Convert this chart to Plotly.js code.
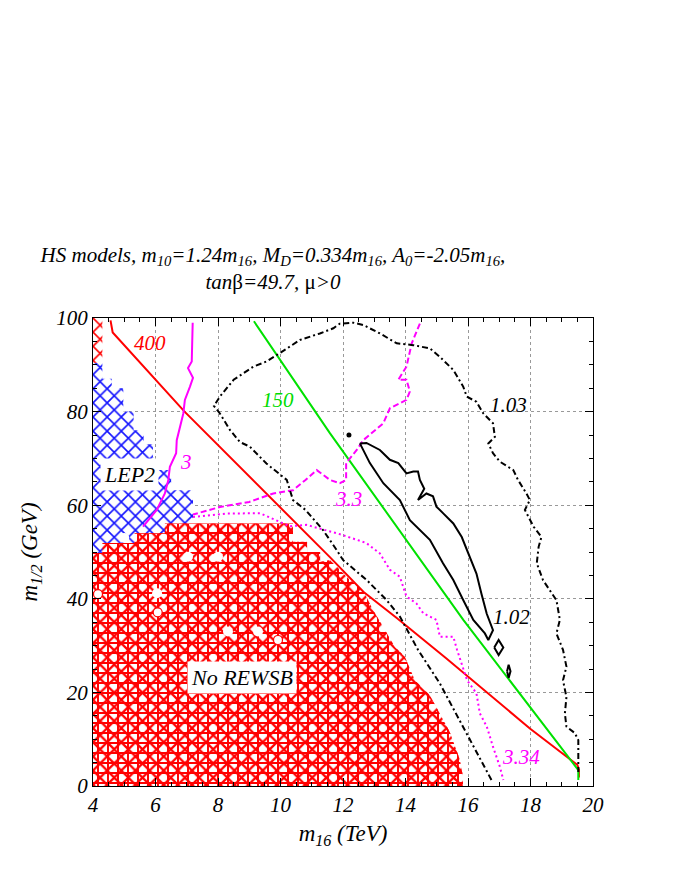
<!DOCTYPE html>
<html>
<head>
<meta charset="utf-8">
<script src="https://cdn.plot.ly/plotly-3.0.1.min.js"></script>
<style>html,body{margin:0;padding:0;background:#fff;}</style>
</head>
<body>
<div id="chart" style="width:674px;height:872px;"></div>
<script>
// ---- data (m16 in TeV, m1/2 in GeV) ----
const xTicks = [4, 6, 8, 10, 12, 14, 16, 18, 20];
const yTicks = [0, 20, 40, 60, 80, 100];

// No REWSB region (red)
const noRewsbX = [4, 4, 4.3, 4.3, 5.33, 5.33, 6.3, 6.3, 10.4, 10.4, 10.85, 10.85, 11.27, 11.27, 11.58, 11.9, 12.22, 12.64, 12.96, 13.3, 13.66, 13.98, 14.3, 14.78, 15.1, 15.42, 15.74, 15.84, 15.84];
const noRewsbY = [0, 49.8, 49.8, 51.9, 51.9, 54, 54, 56.1, 56.1, 52.2, 52.2, 50, 50, 47.9, 48.3, 46.2, 44, 41.9, 37.6, 33.8, 29.7, 27.6, 22.6, 19.4, 15.6, 11.5, 5.6, 2, 0];
// small red patch, top-left corner
const cornerX = [4, 4, 4.3, 4.3];
const cornerY = [90.4, 100, 100, 90.4];
// LEP2 excluded region (blue)
const lepX = [4, 4, 4.3, 4.3, 4.6, 4.6, 4.97, 4.97, 5.3, 5.3, 5.62, 5.62, 5.92, 5.92, 5.98, 5.98, 6.5, 6.5, 7.2, 7.2];
const lepY = [49.8, 90.4, 90.4, 87, 87, 85, 85, 80, 80, 76, 76, 73, 73, 70.3, 70.3, 67.5, 67.5, 63.2, 63.2, 49.8];
// holes in the red region
const holeX = [7.04, 8.0, 6.05, 8.32, 9.28, 5.0];
const holeY = [49, 49, 41.2, 33, 33, 53];
const ringX = [4.16, 6.07, 9.92];
const ringY = [41, 37.1, 31.2];

// contour "400" (red)
const c400X = [4.56, 4.63, 6.93, 11.26, 11.58, 12.65, 13.72, 15.3, 16.0, 16.9, 17.98, 19.15, 19.5, 19.55, 19.55];
const c400Y = [99.5, 96.9, 80, 51.1, 48.9, 41.5, 35.9, 27.3, 23.4, 18.4, 12.3, 6.3, 4.5, 3.5, 1.8];
// contour "150" (green)
const c150X = [9.15, 11.58, 15.85, 19.53, 19.53];
const c150Y = [99.3, 75.4, 35.5, 3.4, 1.3];
// contour "3" (magenta solid)
const c3X = [7.19, 7.16, 7.04, 7.2, 7.1, 6.94, 6.89, 6.78, 6.68, 6.66, 6.46, 6.41, 6.3, 6.04, 5.6];
const c3Y = [99, 90.7, 89.3, 87.2, 85.3, 82.5, 79.6, 76.8, 73.9, 71.1, 68.2, 65.4, 62.5, 59, 55.4];
// contour "3.3" (magenta dashed)
const c33X = [14.46, 14.2, 14.03, 13.77, 14.03, 14.14, 14.03, 13.5, 13.29, 12.97, 12.65, 12.44, 12.1, 12.1, 11.9, 11.58, 11.16, 10.8, 10.4, 9.77, 9.0, 8.06, 7.4, 7.2];
const c33Y = [98.8, 94.6, 89.6, 86.8, 86.8, 84.3, 82.5, 80.7, 77.5, 75.7, 73.9, 71.8, 69, 65.4, 64.7, 65.4, 67.5, 65.4, 63.2, 62.5, 60.7, 59.6, 58.3, 58];
// contour "3.34" (magenta dotted)
const c334X = [7.2, 8.28, 9.34, 10.3, 10.83, 11.47, 11.8, 12.0, 12.75, 13.18, 13.5, 13.82, 14.03, 14.35, 14.57, 14.99, 15.1, 15.53, 15.65, 15.97, 16.27, 16.38, 16.6, 16.8, 17.02, 17.13];
const c334Y = [57.5, 58.2, 58.3, 55.5, 55.8, 54.7, 54, 53.6, 51.9, 49.7, 46.2, 44.7, 40.5, 39, 36.9, 35.5, 31.9, 31.9, 29.1, 22.6, 19.8, 15.5, 12.7, 8.4, 4.1, 1.3];
// contour "1.03" (black dashed)
const c103X = [16.75, 15.85, 15.1, 14.4, 13.82, 13.4, 12.76, 12.0, 11.8, 11.36, 10.8, 10.4, 10.2, 9.55, 9.02, 8.7, 8.38, 8.06, 7.87, 8.06, 8.5, 9.13, 9.55, 9.98, 10.62, 11.26, 11.69, 11.9, 12.33, 12.65, 13.18, 13.72, 14.25, 14.78, 15.1, 15.53, 15.85, 15.96, 16.27, 16.49, 16.8, 16.86, 16.65, 16.8, 17.02, 17.45, 17.6, 17.87, 17.98, 17.82, 18.1, 18.35, 18.26, 18.2, 18.4, 18.83, 18.94, 18.83, 19.04, 19.15, 19.04, 19.15, 19.1, 19.15, 19.42, 19.53, 19.53];
const c103Y = [1.3, 12.7, 21.9, 29.1, 36.2, 39.7, 44, 48.3, 50.4, 54.7, 59, 61.1, 65.4, 68.9, 72.5, 73.5, 76.1, 79.6, 81.2, 83.2, 86.8, 89.6, 90.7, 92.5, 95.3, 96.7, 97.8, 98.8, 99, 98.5, 96.7, 94.6, 94.2, 93.5, 91.7, 88.9, 85.3, 83.2, 82.1, 79.6, 77.5, 74.6, 73.2, 71.1, 69.3, 67.5, 65.4, 62.5, 61.1, 59, 55.4, 53.2, 51.1, 47.6, 44, 39.7, 35.5, 32.6, 29.1, 25.5, 22.6, 19, 15.5, 12.7, 11.3, 9.8, 3];
// contour "1.02" (black solid), main island and two small islands
const c102X = [12.54, 12.75, 13.18, 13.5, 13.77, 14.03, 14.25, 14.4, 14.46, 14.6, 14.4, 14.67, 14.88, 14.99, 15.2, 15.53, 15.8, 16.06, 16.27, 16.43, 16.6, 16.8, 16.65, 16.54, 16.17, 15.85, 15.53, 15.2, 14.78, 14.14, 13.82, 13.29, 12.86, 12.54];
const c102Y = [73.2, 73.3, 71.8, 69.7, 69, 66.8, 67.2, 67.2, 65.4, 63.5, 61.1, 62.5, 61.9, 59.7, 58.3, 56.1, 53.2, 49, 45.4, 41.1, 36.8, 33.3, 31.2, 32.6, 35.5, 39.7, 44, 47.6, 52.6, 56.8, 61.1, 64.7, 69, 73.2];
const isl1X = [16.84, 16.98, 17.13, 16.98, 16.84];
const isl1Y = [29.6, 31.2, 29.6, 28, 29.6];
const isl2X = [17.25, 17.3, 17.36, 17.3, 17.25];
const isl2Y = [24.5, 25.9, 24.5, 23.1, 24.5];
const dotX = [12.19];
const dotY = [75];

// labels
const labels = [
  {x: 5.83, y: 94.6, t: '400', c: 'red'},
  {x: 6.97, y: 69.3, t: '3', c: 'magenta'},
  {x: 9.93, y: 82.5, t: '150', c: 'rgb(0,220,0)'},
  {x: 12.17, y: 61.4, t: '3.3', c: 'magenta'},
  {x: 17.3, y: 81.4, t: '1.03', c: 'black'},
  {x: 17.4, y: 36.2, t: '1.02', c: 'black'},
  {x: 17.7, y: 6.3, t: '3.34', c: 'magenta'}
];
const boxLabels = [
  {x: 5.18, y: 66.5, t: 'LEP2'},
  {x: 8.77, y: 23.1, t: 'No REWSB'}
];

// ---- traces ----
const FONT = 'Liberation Serif';
const traces = [];
function poly(x, y, shape, fg, bg, size, sol) {
  return {x: x, y: y, type: 'scatter', mode: 'lines', fill: 'toself',
    line: {width: 0, color: 'rgba(0,0,0,0)'},
    fillcolor: bg,
    fillpattern: {shape: shape, fgcolor: fg, bgcolor: bg, size: size, solidity: sol},
    hoverinfo: 'skip', showlegend: false};
}
traces.push(poly(lepX, lepY, 'x', 'rgb(20,20,255)', 'white', 10, 0.3));
traces.push(poly(cornerX, cornerY, 'x', 'red', 'white', 10, 0.3));
traces.push(poly(noRewsbX, noRewsbY, 'x', 'red', 'white', 10, 0.4));
traces.push(poly(noRewsbX, noRewsbY, '+', 'red', 'rgba(0,0,0,0)', 10, 0.35));
traces.push({x: holeX, y: holeY, type: 'scatter', mode: 'markers',
  marker: {size: 10, color: 'white', line: {width: 0}}, showlegend: false, hoverinfo: 'skip'});
traces.push({x: ringX, y: ringY, type: 'scatter', mode: 'markers',
  marker: {size: 9, color: 'white', line: {width: 1.2, color: 'red'}}, showlegend: false, hoverinfo: 'skip'});
function line(x, y, color, dash, w) {
  return {x: x, y: y, type: 'scatter', mode: 'lines',
    line: {color: color, width: w || 2, dash: dash || 'solid'},
    showlegend: false, hoverinfo: 'skip'};
}
traces.push(line(c400X, c400Y, 'red'));
traces.push(line(c150X, c150Y, 'rgb(0,225,0)'));
traces.push(line(c3X, c3Y, 'magenta'));
traces.push(line(c33X, c33Y, 'magenta', '6px,3px'));
traces.push(line(c334X, c334Y, 'magenta', '2px,3px'));
traces.push(line(c103X, c103Y, 'black', '6px,3px,2px,3px'));
traces.push(line(c102X, c102Y, 'black'));
traces.push(line(isl1X, isl1Y, 'black'));
traces.push(line(isl2X, isl2Y, 'black'));
traces.push({x: dotX, y: dotY, type: 'scatter', mode: 'markers',
  marker: {size: 5, color: 'black'}, showlegend: false, hoverinfo: 'skip'});

const annotations = labels.map(l => ({x: l.x, y: l.y, xref: 'x', yref: 'y', text: l.t,
  showarrow: false, font: {family: FONT, size: 21, color: l.c, style: 'italic'}}));
boxLabels.forEach(l => annotations.push({x: l.x, y: l.y, xref: 'x', yref: 'y', text: l.t,
  showarrow: false, bgcolor: 'white', borderpad: 3,
  font: {family: FONT, size: 22, color: 'black', style: 'italic'}}));

const axisCommon = {
  showline: true, linecolor: 'black', linewidth: 1, mirror: 'allticks',
  ticks: 'inside', ticklen: 8, tickcolor: 'black', tickwidth: 1,
  showgrid: true, gridcolor: '#999', griddash: 'dot', gridwidth: 1,
  zeroline: false, layer: 'above traces',
  tickfont: {family: FONT, size: 21, color: 'black', style: 'italic'}
};

const layout = {
  width: 674, height: 872,
  margin: {l: 93, r: 81, t: 318, b: 86},
  paper_bgcolor: 'white', plot_bgcolor: 'white',
  font: {family: FONT},
  title: {
    text: 'HS models, m<sub>10</sub>=1.24m<sub>16</sub>, M<sub>D</sub>=0.334m<sub>16</sub>, A<sub>0</sub>=-2.05m<sub>16</sub>,<br>tan<span style="font-style:normal">β</span>=49.7, <span style="font-style:normal">μ</span>>0',
    font: {family: FONT, size: 21, color: 'black', style: 'italic'},
    xref: 'container', x: 0.405, xanchor: 'center',
    yref: 'container', y: 1 - 262 / 872, yanchor: 'top'
  },
  xaxis: Object.assign({}, axisCommon, {
    range: [4, 20], tickvals: xTicks, ticktext: xTicks.map(String),
    minor: {dtick: 0.5, tick0: 4, ticks: 'inside', ticklen: 4, tickcolor: 'black', showgrid: false},
    title: {text: 'm<sub>16</sub> (TeV)', standoff: 8,
      font: {family: FONT, size: 23, color: 'black', style: 'italic'}}
  }),
  yaxis: Object.assign({}, axisCommon, {
    range: [0, 100], tickvals: yTicks, ticktext: yTicks.map(String),
    minor: {dtick: 5, tick0: 0, ticks: 'inside', ticklen: 4, tickcolor: 'black', showgrid: false},
    title: {text: 'm<sub>1/2</sub> (GeV)', standoff: 12,
      font: {family: FONT, size: 23, color: 'black', style: 'italic'}}
  }),
  annotations: annotations
};

Plotly.newPlot('chart', traces, layout, {displayModeBar: false, staticPlot: true});
</script>
</body>
</html>
